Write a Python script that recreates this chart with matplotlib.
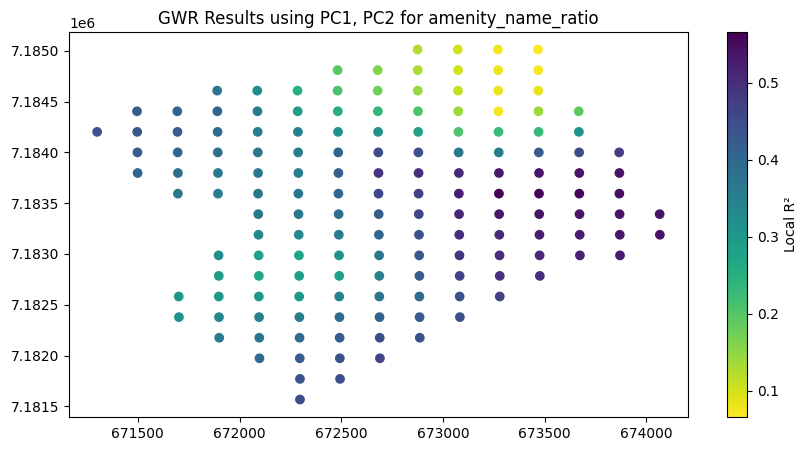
import numpy as np
import matplotlib
matplotlib.use('Agg')
import matplotlib.pyplot as plt

# grid of local GWR fits, read row by row from top to bottom
col_x = [671300, 671497, 671695, 671892, 672089, 672287, 672484, 672681,
         672878, 673076, 673273, 673470, 673668, 673865, 674062]
row_y = [7185013, 7184810, 7184608, 7184405, 7184202, 7184000, 7183797, 7183594, 7183392,
         7183189, 7182986, 7182784, 7182581, 7182378, 7182175, 7181973, 7181770, 7181567]
row_shift = [-3, -2, -2, -1, 0, 1, 2, 2, 3, 4, 5, 6, 6, 7, 8, 9, 10, 10]
row_start = [8, 6, 3, 1, 0, 1, 1, 2, 4, 4, 3, 3, 2, 2, 3, 4, 5, 5]

r2_rows = [
    [0.125, 0.10, 0.075, 0.066],
    [0.195, 0.16, 0.13, 0.10, 0.078, 0.072],
    [0.37, 0.32, 0.25, 0.21, 0.175, 0.145, 0.11, 0.08, 0.085],
    [0.42, 0.41, 0.405, 0.36, 0.29, 0.255, 0.235, 0.205, 0.14, 0.075, 0.14, 0.19],
    [0.44, 0.43, 0.425, 0.395, 0.36, 0.345, 0.31, 0.31, 0.28, 0.205, 0.225, 0.23, 0.31],
    [0.42, 0.405, 0.385, 0.365, 0.36, 0.40, 0.45, 0.44, 0.37, 0.36, 0.42, 0.45, 0.475],
    [0.405, 0.385, 0.365, 0.365, 0.36, 0.42, 0.49, 0.50, 0.51, 0.53, 0.535, 0.54, 0.54],
    [0.365, 0.355, 0.365, 0.37, 0.405, 0.46, 0.47, 0.525, 0.565, 0.56, 0.56, 0.55],
    [0.365, 0.365, 0.385, 0.42, 0.46, 0.51, 0.535, 0.54, 0.54, 0.54, 0.54],
    [0.335, 0.33, 0.36, 0.405, 0.44, 0.50, 0.51, 0.525, 0.525, 0.535, 0.54],
    [0.32, 0.285, 0.27, 0.315, 0.37, 0.43, 0.49, 0.50, 0.51, 0.52, 0.53],
    [0.29, 0.27, 0.285, 0.285, 0.35, 0.425, 0.465, 0.495, 0.50],
    [0.30, 0.295, 0.30, 0.30, 0.35, 0.37, 0.395, 0.44, 0.47],
    [0.31, 0.33, 0.345, 0.36, 0.39, 0.415, 0.425, 0.445],
    [0.36, 0.37, 0.39, 0.425, 0.45, 0.44],
    [0.395, 0.42, 0.44, 0.465],
    [0.44, 0.445],
    [0.45],
]

xs, ys, r2 = [], [], []
for i, row in enumerate(r2_rows):
    for j, val in enumerate(row):
        xs.append(col_x[row_start[i] + j] + row_shift[i])
        ys.append(row_y[i])
        r2.append(val)

W, H = 807, 451
fig = plt.figure(figsize=(W / 100, H / 100), dpi=100)
ax = fig.add_axes([69 / W, 1 - 417 / H, 619 / W, 385 / H])
cax = fig.add_axes([727 / W, 1 - 417 / H, 20 / W, 385 / H])

sc = ax.scatter(np.array(xs), np.array(ys), c=r2, cmap='viridis_r', vmin=0.066, vmax=0.566)
ax.set_title('GWR Results using PC1, PC2 for amenity_name_ratio')
cb = fig.colorbar(sc, cax=cax)
cb.set_label('Local R²')

fig.savefig('out.png', dpi=100)
